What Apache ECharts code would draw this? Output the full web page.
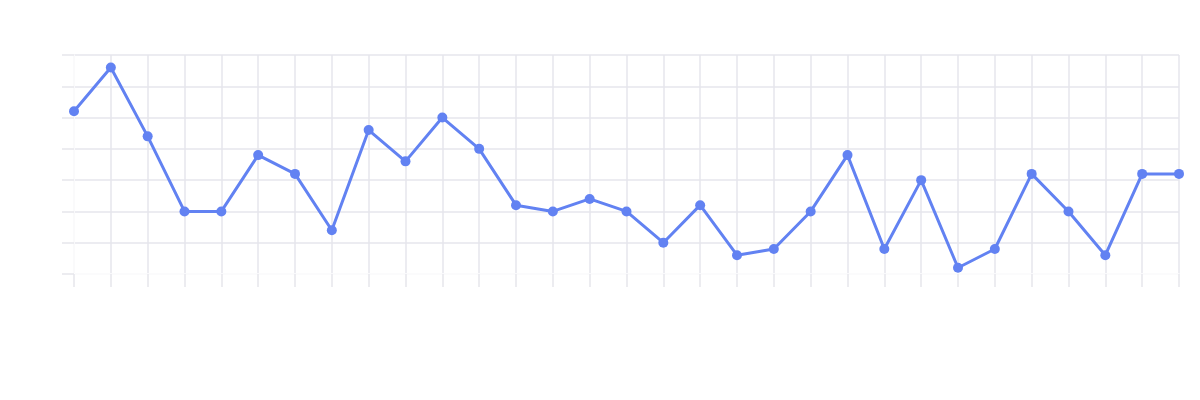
<!DOCTYPE html>
<html>
<head>
<meta charset="utf-8">
<script src="https://cdn.jsdelivr.net/npm/echarts@6/dist/echarts.min.js"></script>
<style>html,body{margin:0;padding:0;background:#fff}#c{width:1200px;height:400px}</style>
</head>
<body>
<div id="c"></div>
<script>
var categories = ['1','2','3','4','5','6','7','8','9','10','11','12','13','14','15','16','17','18','19','20','21','22','23','24','25','26','27','28','29','30','31'];
var values = [26,33,22,10,10,19,16,7,23,18,25,20,11,10,12,10,5,11,3,4,10,19,4,15,1,4,16,10,3,16,16];
var gridColor = '#e6e6ec';
var chart = echarts.init(document.getElementById('c'), null, {renderer:'canvas'});
chart.setOption({
  animation: false,
  grid: {left: 74, right: 21, top: 55, bottom: 126},
  xAxis: {
    type: 'category',
    data: categories,
    boundaryGap: false,
    axisLine: {show: true, lineStyle: {color: '#ffffff', width: 1.5}},
    axisTick: {show: true, length: 13, lineStyle: {color: gridColor, width: 1.5}},
    axisLabel: {show: false},
    splitLine: {show: true, lineStyle: {color: gridColor, width: 1.5}}
  },
  yAxis: {
    type: 'value',
    min: 0, max: 35, interval: 5,
    axisLine: {show: true, lineStyle: {color: '#ffffff', width: 1.5}},
    axisTick: {show: true, length: 12, lineStyle: {color: gridColor, width: 1.5}},
    axisLabel: {show: false},
    splitLine: {show: true, lineStyle: {color: gridColor, width: 1.5}}
  },
  series: [{
    type: 'line',
    data: values,
    symbol: 'circle',
    symbolSize: 10,
    lineStyle: {color: '#6282f2', width: 3},
    itemStyle: {color: '#6282f2'}
  }]
});
</script>
</body>
</html>
